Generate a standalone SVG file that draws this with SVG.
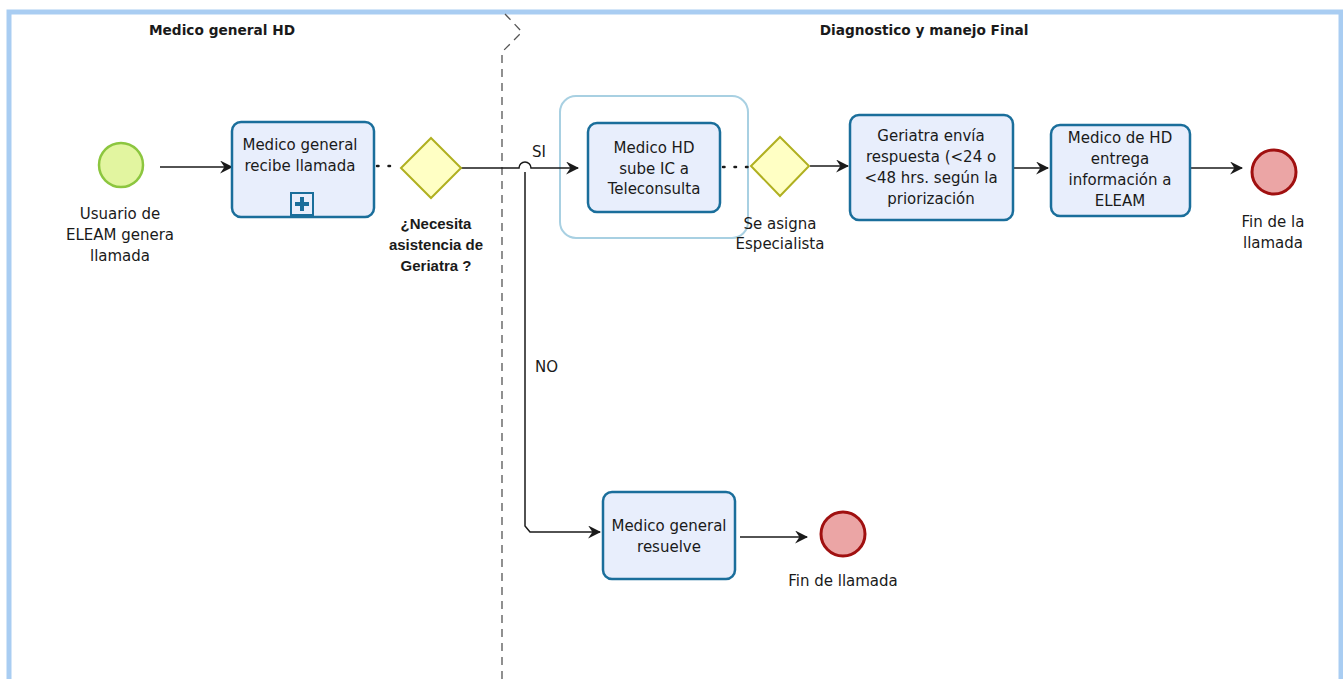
<svg xmlns="http://www.w3.org/2000/svg" width="1343" height="679" viewBox="0 0 1343 679">
<style>
text{font-family:"DejaVu Sans","Liberation Sans",sans-serif;font-size:15px;fill:#1a1a1a}
.c{text-anchor:middle}
.b{font-weight:bold;font-size:13px}
.t{font-size:13.7px}
.g{font-family:"Liberation Sans",Arial,sans-serif;font-weight:bold;font-size:15px}
.task{fill:#e8eefc;stroke:#1a6e9b;stroke-width:2.5}
.gw{fill:#ffffc4;stroke:#b0b020;stroke-width:2}
.end{fill:#eba5a5;stroke:#a01010;stroke-width:3}
.flow{fill:none;stroke:#1a1a1a;stroke-width:1.5}
.assoc{fill:none;stroke:#1a1a1a;stroke-width:2.5;stroke-dasharray:1.5 10;stroke-linecap:round}
</style>
<defs>
<marker id="arr" viewBox="0 0 12 12" refX="11" refY="6" markerWidth="13" markerHeight="13" markerUnits="userSpaceOnUse" orient="auto">
<path d="M0,0 L12,6 L0,12 L4,6 Z" fill="#1a1a1a"/>
</marker>
</defs>
<rect x="0" y="0" width="1343" height="679" fill="#ffffff"/>
<rect x="9" y="12" width="1332" height="680" fill="#ffffff" stroke="#a9cdf2" stroke-width="5"/>
<g id="lanes">
<path d="M505,14 L522,32 L502,52 L502,679" fill="none" stroke="#555" stroke-width="1.3" stroke-dasharray="8 6"/>
<text class="b t c" x="222" y="35">Medico general HD</text>
<text class="b t c" x="924" y="35">Diagnostico y manejo Final</text>
</g>
<g id="group">
<rect x="560" y="96" width="188" height="142" rx="16" fill="none" stroke="#a8d0e2" stroke-width="2"/>
</g>
<g id="connectors">
<line class="flow" x1="160" y1="167" x2="232" y2="167" marker-end="url(#arr)"/>
<line class="assoc" x1="377" y1="166" x2="400" y2="166"/>
<path class="flow" d="M461,168 L519,168 A6,6 0 0 1 531,168 L578,168" marker-end="url(#arr)"/>
<path class="flow" d="M525,172 L525,526 L530,532 L600,532" marker-end="url(#arr)"/>
<line class="assoc" x1="723" y1="167" x2="752" y2="167"/>
<line class="flow" x1="810" y1="166" x2="848" y2="166" marker-end="url(#arr)"/>
<line class="flow" x1="1014" y1="168" x2="1048" y2="168" marker-end="url(#arr)"/>
<line class="flow" x1="1190" y1="168" x2="1242" y2="168" marker-end="url(#arr)"/>
<line class="flow" x1="740" y1="537" x2="807" y2="537" marker-end="url(#arr)"/>
<text x="532" y="157">SI</text>
<text x="535" y="372">NO</text>
</g>
<g id="start">
<circle cx="121" cy="165" r="22" fill="#e2f5a0" stroke="#8cc63f" stroke-width="2.5"/>
<text class="c" x="120" y="219">Usuario de</text>
<text class="c" x="120" y="240">ELEAM genera</text>
<text class="c" x="120" y="261">llamada</text>
</g>
<g id="task1">
<rect class="task" x="232" y="122" width="142" height="95" rx="9" stroke-width="3.5"/>
<text class="c" x="300" y="150">Medico general</text>
<text class="c" x="300" y="171">recibe llamada</text>
<rect x="291" y="193" width="22" height="22" fill="#e8eefc" stroke="#1a6e9b" stroke-width="2"/>
<path d="M302,197 L302,211 M295,204 L309,204" stroke="#1a6e9b" stroke-width="4"/>
</g>
<g id="gw1">
<polygon class="gw" points="431,138 461,168 431,198 401,168"/>
<text class="c g" x="436" y="229">¿Necesita</text>
<text class="c g" x="436" y="250">asistencia de</text>
<text class="c g" x="436" y="271">Geriatra ?</text>
</g>
<g id="task2">
<rect class="task" x="588" y="123" width="132" height="89" rx="9"/>
<text class="c" x="654" y="153">Medico HD</text>
<text class="c" x="654" y="174">sube IC a</text>
<text class="c" x="654" y="194">Teleconsulta</text>
</g>
<g id="gw2">
<polygon class="gw" points="780,137 809,166 780,196 751,166"/>
<text class="c" x="780" y="229">Se asigna</text>
<text class="c" x="780" y="249">Especialista</text>
</g>
<g id="task3">
<rect class="task" x="850" y="115" width="163" height="105" rx="9"/>
<text class="c" x="931" y="141">Geriatra envía</text>
<text class="c" x="931" y="162">respuesta (&lt;24 o</text>
<text class="c" x="931" y="183">&lt;48 hrs. según la</text>
<text class="c" x="931" y="204">priorización</text>
</g>
<g id="task4">
<rect class="task" x="1051" y="125" width="139" height="91" rx="9"/>
<text class="c" x="1120" y="143">Medico de HD</text>
<text class="c" x="1120" y="164">entrega</text>
<text class="c" x="1120" y="185">información a</text>
<text class="c" x="1120" y="206">ELEAM</text>
</g>
<g id="end1">
<circle class="end" cx="1274" cy="172" r="22"/>
<text class="c" x="1273" y="227">Fin de la</text>
<text class="c" x="1273" y="248">llamada</text>
</g>
<g id="task5">
<rect class="task" x="603" y="492" width="132" height="87" rx="9"/>
<text class="c" x="669" y="531">Medico general</text>
<text class="c" x="669" y="552">resuelve</text>
</g>
<g id="end2">
<circle class="end" cx="843" cy="534" r="22"/>
<text class="c" x="843" y="586">Fin de llamada</text>
</g>
</svg>
